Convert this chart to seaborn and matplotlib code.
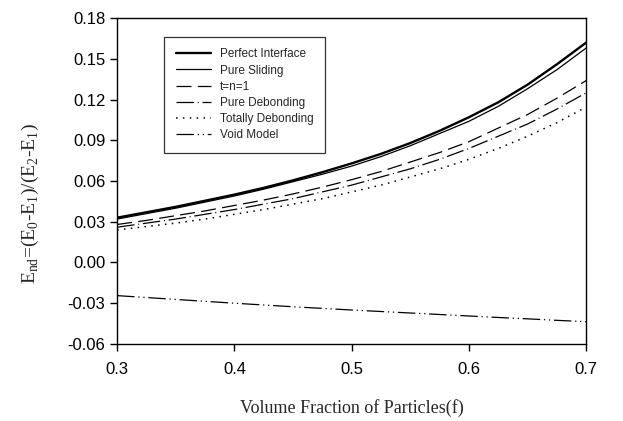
import pandas as pd
import seaborn as sns
import matplotlib
matplotlib.use("Agg")
import matplotlib.pyplot as plt

# data
f = [0.300, 0.325, 0.350, 0.375, 0.400, 0.425, 0.450, 0.475, 0.500,
     0.525, 0.550, 0.575, 0.600, 0.625, 0.650, 0.675, 0.700]
perfect = [0.033, 0.037, 0.041, 0.0455, 0.050, 0.055, 0.0605, 0.0665, 0.073,
           0.080, 0.088, 0.097, 0.107, 0.118, 0.131, 0.146, 0.162]
sliding = [0.032, 0.036, 0.040, 0.0445, 0.049, 0.054, 0.0595, 0.065, 0.071,
           0.078, 0.086, 0.095, 0.104, 0.115, 0.128, 0.142, 0.158]
tn1 = [0.028, 0.031, 0.0345, 0.038, 0.042, 0.046, 0.0505, 0.0555, 0.061,
       0.067, 0.074, 0.081, 0.089, 0.099, 0.109, 0.121, 0.134]
debond = [0.026, 0.029, 0.032, 0.0355, 0.039, 0.043, 0.047, 0.052, 0.057,
          0.063, 0.069, 0.076, 0.084, 0.093, 0.102, 0.113, 0.125]
totally = [0.024, 0.0265, 0.029, 0.032, 0.0355, 0.039, 0.043, 0.047, 0.052,
           0.057, 0.063, 0.069, 0.076, 0.084, 0.093, 0.103, 0.1145]
void = [-0.0244, -0.0258, -0.0272, -0.0286, -0.030, -0.0313, -0.0326, -0.0338, -0.035,
        -0.0361, -0.0372, -0.0383, -0.0394, -0.0405, -0.0415, -0.0426, -0.0436]

labels = ["Perfect Interface", "Pure Sliding", "t=n=1",
          "Pure Debonding", "Totally Debonding", "Void Model"]
series = [perfect, sliding, tn1, debond, totally, void]

styles = {
    "Perfect Interface": dict(lw=1.7, ls="-"),
    "Pure Sliding": dict(lw=0.9, ls="-"),
    "t=n=1": dict(lw=0.9, ls=(0, (12, 5))),
    "Pure Debonding": dict(lw=0.9, ls=(0, (14, 3, 0.8, 3))),
    "Totally Debonding": dict(lw=1.1, ls=(0, (1, 3.5))),
    "Void Model": dict(lw=0.9, ls=(0, (14, 3, 1, 3, 1, 3))),
}

sns.set_style("ticks")
plt.rcParams["font.family"] = ["Liberation Sans", "DejaVu Sans"]

fig = plt.figure(figsize=(6.23, 4.21), dpi=100)
ax = fig.add_axes([0.188, 0.183, 0.753, 0.774])

for name, vals in zip(labels, series):
    df = pd.DataFrame({"f": f, "E": vals})
    st = styles[name]
    sns.lineplot(data=df, x="f", y="E", ax=ax, color="black",
                 linewidth=st["lw"], linestyle=st["ls"], label=name)

ax.set_xlim(0.3, 0.7)
ax.set_ylim(-0.06, 0.18)
ax.set_xticks([0.3, 0.4, 0.5, 0.6, 0.7])
ax.set_yticks([-0.06, -0.03, 0.0, 0.03, 0.06, 0.09, 0.12, 0.15, 0.18])
ax.set_yticklabels([f"{v:.2f}" for v in ax.get_yticks()])
ax.tick_params(direction="out", length=5, width=1, labelsize=12, colors="black")
ax.tick_params(axis="x", pad=8)
for s in ax.spines.values():
    s.set_color("black")
    s.set_linewidth(1)

ax.set_xlabel("Volume Fraction of Particles(f)", fontsize=13,
              fontfamily="Liberation Serif", labelpad=16)
ax.set_ylabel(r"E$_{\mathregular{nd}}$=(E$_{\mathregular{0}}$-E$_{\mathregular{1}}$)"
              r"/(E$_{\mathregular{2}}$-E$_{\mathregular{1}}$)",
              fontsize=14, fontfamily="Liberation Serif")
ax.yaxis.set_label_coords(-0.163, 0.43)

leg = ax.legend(loc="upper left", bbox_to_anchor=(0.1, 0.943), fontsize=8.5,
                frameon=True, fancybox=False, handlelength=3.0,
                borderpad=1.0, labelspacing=0.35, handletextpad=0.7,
                borderaxespad=0)
leg.get_frame().set_edgecolor("black")
leg.get_frame().set_linewidth(0.9)

fig.savefig("out.png", dpi=100)
